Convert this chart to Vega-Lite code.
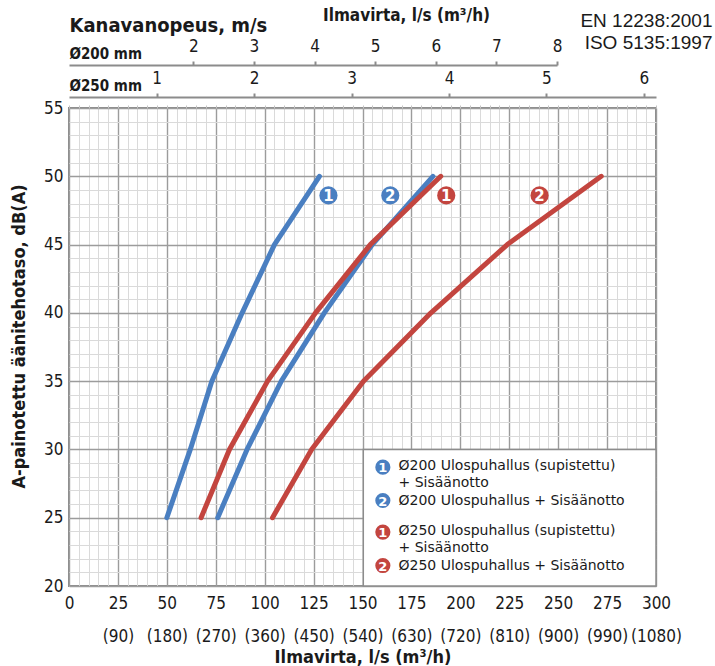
{
  "$schema": "https://vega.github.io/schema/vega-lite/v6.json",
  "width": 587,
  "height": 478,
  "autosize": {"type": "none"},
  "padding": {"left": 69, "top": 108, "right": 59, "bottom": 80},
  "background": "white",
  "config": {
    "view": {"stroke": "#8c8c8c", "strokeWidth": 2},
    "font": "DejaVu Sans Condensed",
    "axis": {"labelFont": "DejaVu Sans Condensed", "titleFont": "DejaVu Sans Condensed", "labelColor": "#1a1a1a", "titleColor": "#1a1a1a"}
  },
  "datasets": {
    "curves": [
      {"series": "b1", "q": 50, "db": 25}, {"series": "b1", "q": 62, "db": 30}, {"series": "b1", "q": 73, "db": 35},
      {"series": "b1", "q": 88.5, "db": 40}, {"series": "b1", "q": 105, "db": 45}, {"series": "b1", "q": 128, "db": 50},
      {"series": "b2", "q": 76, "db": 25}, {"series": "b2", "q": 91, "db": 30}, {"series": "b2", "q": 108.5, "db": 35},
      {"series": "b2", "q": 130.5, "db": 40}, {"series": "b2", "q": 155, "db": 45}, {"series": "b2", "q": 186, "db": 50},
      {"series": "r1", "q": 67.5, "db": 25}, {"series": "r1", "q": 82, "db": 30}, {"series": "r1", "q": 101.5, "db": 35},
      {"series": "r1", "q": 126, "db": 40}, {"series": "r1", "q": 154, "db": 45}, {"series": "r1", "q": 190, "db": 50},
      {"series": "r2", "q": 104, "db": 25}, {"series": "r2", "q": 124, "db": 30}, {"series": "r2", "q": 150.5, "db": 35},
      {"series": "r2", "q": 185, "db": 40}, {"series": "r2", "q": 224, "db": 45}, {"series": "r2", "q": 272, "db": 50}
    ],
    "badges": [
      {"series": "b1", "num": "1", "q": 132.6, "db": 48.6},
      {"series": "b2", "num": "2", "q": 164.2, "db": 48.6},
      {"series": "r1", "num": "1", "q": 192.8, "db": 48.6},
      {"series": "r2", "num": "2", "q": 240.5, "db": 48.6}
    ],
    "legendItems": [
      {"series": "b1", "num": "1", "q": 160.4, "db": 28.7},
      {"series": "b2", "num": "2", "q": 160.4, "db": 26.26},
      {"series": "r1", "num": "1", "q": 160.4, "db": 23.95},
      {"series": "r2", "num": "2", "q": 160.4, "db": 21.5}
    ],
    "legendLines": [
      {"series": "b1", "tq": 168.4, "db": 28.82, "label": "Ø200 Ulospuhallus (supistettu)"},
      {"series": "b1", "tq": 168.4, "db": 27.57, "label": "+ Sisäänotto"},
      {"series": "b2", "tq": 168.4, "db": 26.26, "label": "Ø200 Ulospuhallus + Sisäänotto"},
      {"series": "r1", "tq": 168.4, "db": 24.06, "label": "Ø250 Ulospuhallus (supistettu)"},
      {"series": "r1", "tq": 168.4, "db": 22.81, "label": "+ Sisäänotto"},
      {"series": "r2", "tq": 168.4, "db": 21.5, "label": "Ø250 Ulospuhallus + Sisäänotto"}
    ],
    "legendBox": [{"q0": 150.4, "q1": 300, "db0": 20, "db1": 30}],
    "d200": [{"v": 2}, {"v": 3}, {"v": 4}, {"v": 5}, {"v": 6}, {"v": 7}, {"v": 8}],
    "d250": [{"v": 1}, {"v": 2}, {"v": 3}, {"v": 4}, {"v": 5}, {"v": 6}]
  },
  "layer": [
    {
      "layer": [
        {
          "data": {"name": "curves"},
          "mark": {"type": "point", "opacity": 0},
          "encoding": {
            "x": {"field": "q", "type": "quantitative", "scale": {"domain": [0, 300], "nice": false, "zero": false},
              "axis": {"orient": "top", "values": [0,5,10,15,20,25,30,35,40,45,50,55,60,65,70,75,80,85,90,95,100,105,110,115,120,125,130,135,140,145,150,155,160,165,170,175,180,185,190,195,200,205,210,215,220,225,230,235,240,245,250,255,260,265,270,275,280,285,290,295,300],
                "grid": true, "gridColor": "#dadada", "gridWidth": 1, "labels": false, "ticks": true, "tickSize": 3, "tickColor": "#c4c4c4", "domain": false,
                "title": "Ilmavirta, l/s (m³/h)", "titleX": 337, "titleY": -88, "titleAlign": "center", "titleAnchor": "middle", "titleBaseline": "alphabetic", "titleFontSize": 17, "titleFontWeight": "bold"}},
            "y": {"field": "db", "type": "quantitative", "scale": {"domain": [20, 55], "nice": false, "zero": false},
              "axis": {"orient": "left", "values": [20,21,22,23,24,25,26,27,28,29,30,31,32,33,34,35,36,37,38,39,40,41,42,43,44,45,46,47,48,49,50,51,52,53,54,55],
                "grid": true, "gridColor": "#dadada", "gridWidth": 1, "labels": false, "ticks": false, "domain": false,
                "title": "Kanavanopeus, m/s", "titleAngle": 0, "titleX": 0, "titleY": -77, "titleAlign": "left", "titleAnchor": "start", "titleBaseline": "alphabetic", "titleFontSize": 20, "titleFontWeight": "bold"}}
          }
        },
        {
          "data": {"name": "curves"},
          "mark": {"type": "line", "strokeWidth": 5, "strokeCap": "round", "strokeJoin": "round"},
          "encoding": {
            "x": {"field": "q", "type": "quantitative", "scale": {"domain": [0, 300], "nice": false, "zero": false},
              "axis": {"orient": "bottom", "values": [0,25,50,75,100,125,150,175,200,225,250,275,300], "grid": true, "gridColor": "#9c9c9c", "gridWidth": 1.4,
                "ticks": false, "domain": false, "labelFontSize": 17, "labelPadding": 9, "labelLineHeight": 33, "labelOverlap": false, "labelFlush": false,
                "labelExpr": "datum.value == 0 ? '0' : [datum.label, '(' + format(datum.value * 3.6, 'd') + ')']",
                "title": "Ilmavirta, l/s (m³/h)", "titleX": 293.5, "titleY": 76, "titleAlign": "center", "titleAnchor": "middle", "titleBaseline": "alphabetic", "titleFontSize": 18, "titleFontWeight": "bold"}},
            "y": {"field": "db", "type": "quantitative", "scale": {"domain": [20, 55], "nice": false, "zero": false},
              "axis": {"orient": "left", "values": [20,25,30,35,40,45,50,55], "grid": true, "gridColor": "#9c9c9c", "gridWidth": 1.4, "ticks": false, "domain": false,
                "labelFontSize": 17, "labelPadding": 6,
                "title": "A-painotettu äänitehotaso, dB(A)", "titleX": -50, "titleY": 228, "titleAngle": 270, "titleAlign": "center", "titleAnchor": "middle", "titleBaseline": "middle", "titleFontSize": 18, "titleFontWeight": "bold"}},
            "color": {"field": "series", "type": "nominal", "scale": {"domain": ["b1", "b2", "r1", "r2"], "range": ["#4a7fc1", "#4a7fc1", "#c3453f", "#c3453f"]}, "legend": null}
          }
        },
        {
          "data": {"name": "badges"},
          "mark": {"type": "circle", "size": 330, "opacity": 1},
          "encoding": {
            "x": {"field": "q", "type": "quantitative", "axis": null},
            "y": {"field": "db", "type": "quantitative",
              "axis": {"orient": "right", "labels": false, "ticks": false, "domain": false, "grid": false,
                "title": ["EN 12238:2001", "ISO 5135:1997"], "titleAngle": 0, "titleX": 56, "titleY": -82, "titleAlign": "right", "titleAnchor": "end", "titleBaseline": "alphabetic",
                "titleFont": "Liberation Sans", "titleFontWeight": "normal", "titleFontSize": 19, "titleLineHeight": 22}},
            "color": {"field": "series", "type": "nominal", "legend": null}
          }
        },
        {
          "data": {"name": "badges"},
          "mark": {"type": "text", "color": "white", "fontWeight": "bold", "fontSize": 15, "font": "DejaVu Sans", "baseline": "middle", "align": "center", "dy": 1},
          "encoding": {
            "x": {"field": "q", "type": "quantitative", "axis": null},
            "y": {"field": "db", "type": "quantitative", "axis": null},
            "text": {"field": "num", "type": "nominal"}
          }
        },
        {
          "data": {"name": "legendBox"},
          "mark": {"type": "rect", "fill": "white", "stroke": "#8c8c8c", "strokeWidth": 1.5},
          "encoding": {
            "x": {"field": "q0", "type": "quantitative", "axis": null},
            "x2": {"field": "q1"},
            "y": {"field": "db0", "type": "quantitative", "axis": null},
            "y2": {"field": "db1"}
          }
        },
        {
          "data": {"name": "legendItems"},
          "mark": {"type": "circle", "size": 230, "opacity": 1},
          "encoding": {
            "x": {"field": "q", "type": "quantitative", "axis": null},
            "y": {"field": "db", "type": "quantitative", "axis": null},
            "color": {"field": "series", "type": "nominal", "legend": null}
          }
        },
        {
          "data": {"name": "legendItems"},
          "mark": {"type": "text", "color": "white", "fontWeight": "bold", "fontSize": 13, "font": "DejaVu Sans", "baseline": "middle", "align": "center", "dy": 1},
          "encoding": {
            "x": {"field": "q", "type": "quantitative", "axis": null},
            "y": {"field": "db", "type": "quantitative", "axis": null},
            "text": {"field": "num", "type": "nominal"}
          }
        },
        {
          "data": {"name": "legendLines"},
          "mark": {"type": "text", "color": "#1a1a1a", "fontSize": 14, "font": "DejaVu Sans", "baseline": "middle", "align": "left"},
          "encoding": {
            "x": {"field": "tq", "type": "quantitative", "axis": null},
            "y": {"field": "db", "type": "quantitative", "axis": null},
            "text": {"field": "label", "type": "nominal"}
          }
        }
      ],
      "resolve": {"axis": {"x": "independent", "y": "independent"}}
    },
    {
      "data": {"name": "d200"},
      "mark": {"type": "point", "opacity": 0},
      "encoding": {
        "x": {"field": "v", "type": "quantitative", "scale": {"domain": [-0.05, 8], "range": [0, 488], "nice": false, "zero": false},
          "axis": {"orient": "top", "offset": 43, "values": [2, 3, 4, 5, 6, 7, 8], "grid": false, "domain": true, "domainColor": "#8c8c8c", "domainWidth": 2,
            "ticks": true, "tickColor": "#8c8c8c", "tickWidth": 2, "tickSize": 4, "labelFontSize": 17, "labelPadding": 6, "labelFlush": false,
            "title": "Ø200 mm", "titleX": 0, "titleY": -7, "titleAlign": "left", "titleAnchor": "start", "titleBaseline": "alphabetic", "titleFontSize": 15, "titleFontWeight": "bold"}}
      }
    },
    {
      "data": {"name": "d250"},
      "mark": {"type": "point", "opacity": 0},
      "encoding": {
        "x": {"field": "v", "type": "quantitative", "scale": {"domain": [0.1, 6.124], "nice": false, "zero": false},
          "axis": {"orient": "top", "offset": 11, "values": [1, 2, 3, 4, 5, 6], "grid": false, "domain": true, "domainColor": "#8c8c8c", "domainWidth": 2,
            "ticks": true, "tickColor": "#8c8c8c", "tickWidth": 2, "tickSize": 4, "labelFontSize": 17, "labelPadding": 6, "labelFlush": false,
            "title": "Ø250 mm", "titleX": 0, "titleY": -7, "titleAlign": "left", "titleAnchor": "start", "titleBaseline": "alphabetic", "titleFontSize": 15, "titleFontWeight": "bold"}}
      }
    }
  ],
  "resolve": {"scale": {"x": "independent"}, "axis": {"x": "independent"}}
}
